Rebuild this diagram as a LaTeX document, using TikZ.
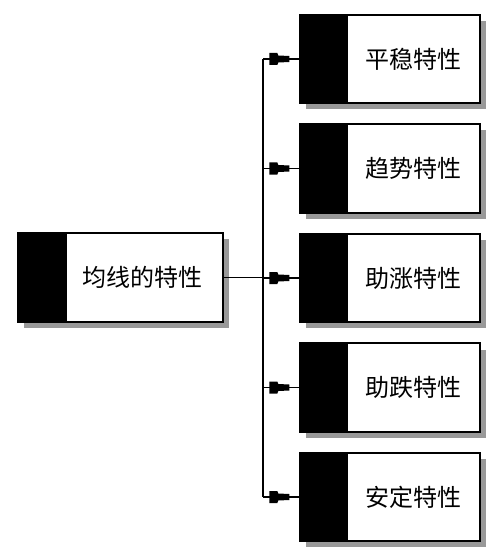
\documentclass[tikz,border=0pt]{standalone}
\usepackage{fontspec}
\newfontfamily\cjk{Noto Sans CJK SC}
\usetikzlibrary{shadows,calc}
\tikzset{
  featbox/.style={draw=black, line width=1.4pt, fill=white, rectangle, inner sep=0pt,
    minimum width=180pt, minimum height=88pt,
    drop shadow={shadow xshift=6pt, shadow yshift=-6pt, fill=black!40, opacity=1}},
  mainbox/.style={featbox, minimum width=205pt, minimum height=89pt},
  boxlabel/.style={font=\cjk\fontsize{24}{28}\selectfont, inner sep=0pt},
  conn/.style={line width=1.6pt, black},
  plug/.pic={\fill[black] (-30,-6) -- (-22,-6) -- (-21,-3.5) -- (-10,-3) -- (-10,3) -- (-21,3.5) -- (-22,6) -- (-30,6) -- cycle;}
}
\begin{document}
\begin{tikzpicture}[x=1pt,y=1pt]
\useasboundingbox (0,0) rectangle (498,-548);
% main box
\node[mainbox] (m) at (120.5,-277.5) {};
\fill[black] (m.north west) rectangle ($(m.south west)+(50,0)$);
\draw[line width=1.4pt] (m.north west) rectangle (m.south east);
\node[boxlabel] (mt) at ($(m.center)+(22,0)$) {均线的特性};
% feature boxes
\foreach \i/\y/\t in {1/59/平稳特性, 2/168.5/趋势特性, 3/278/助涨特性, 4/387.5/助跌特性, 5/497/安定特性}{
  \node[featbox] (b\i) at (390,-\y) {};
  \fill[black] (b\i.north west) rectangle ($(b\i.south west)+(49,0)$);
  \draw[line width=1.4pt] (b\i.north west) rectangle (b\i.south east);
  \node[boxlabel] (t\i) at ($(b\i.center)+(23.5,0)$) {\t};
  \coordinate (s\i) at (263,-\y);
  \draw[conn] (s\i) -- (b\i.west);
  \pic at (b\i.west) {plug};
}
\draw[conn] (s1) -- (s5);
\coordinate (j) at (263,-277.5);
\draw[conn] (m.east) -- (j);
\end{tikzpicture}
\end{document}
